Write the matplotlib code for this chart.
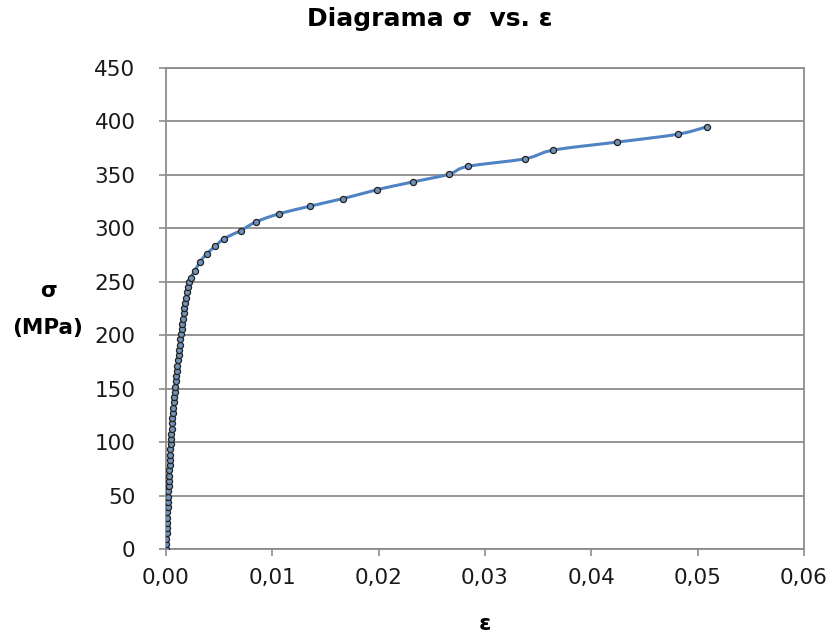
import numpy as np
import matplotlib
matplotlib.use("Agg")
import matplotlib.pyplot as plt

# Stress-strain readings (strain in mm/mm, stress in MPa)
strain = [
    0.00000, 0.00002, 0.00004, 0.00006, 0.00008, 0.00010, 0.00012, 0.00014,
    0.00016, 0.00018, 0.00020, 0.00022, 0.00024, 0.00026, 0.00028, 0.00030,
    0.00033, 0.00035, 0.00038, 0.00040, 0.00043, 0.00046, 0.00050, 0.00053,
    0.00057, 0.00060, 0.00064, 0.00068, 0.00073, 0.00077, 0.00082, 0.00087,
    0.00092, 0.00097, 0.00102, 0.00107, 0.00112, 0.00118, 0.00123, 0.00129,
    0.00135, 0.00141, 0.00147, 0.00153, 0.00160, 0.00166, 0.00173, 0.00180,
    0.00188, 0.00196, 0.00204, 0.00214, 0.00232, 0.00272, 0.00320, 0.00384,
    0.00462, 0.00547, 0.00701, 0.00846, 0.01060, 0.01352, 0.01667, 0.01981,
    0.02321, 0.02657, 0.02840, 0.03374, 0.03642, 0.04245, 0.04811, 0.05088,
]
stress = [
    0.0, 4.9, 9.8, 14.7, 19.6, 24.5, 29.4, 34.3,
    39.2, 44.1, 49.0, 53.9, 58.8, 63.7, 68.6, 73.5,
    78.4, 83.3, 88.2, 93.1, 98.0, 102.9, 107.8, 112.7,
    117.6, 122.5, 127.4, 132.3, 137.2, 142.1, 147.0, 151.9,
    156.8, 161.7, 166.6, 171.5, 176.4, 181.3, 186.2, 191.1,
    196.0, 200.9, 205.8, 210.7, 215.6, 220.5, 225.4, 230.3,
    235.2, 240.1, 245.0, 249.9, 253.8, 260.5, 268.8, 276.3,
    283.2, 290.4, 297.8, 306.0, 313.5, 320.7, 327.9, 336.1,
    343.4, 350.5, 358.0, 365.0, 373.2, 380.7, 388.0, 395.1,
]

x_ticks = [0.00, 0.01, 0.02, 0.03, 0.04, 0.05, 0.06]
x_tick_labels = ["0,00", "0,01", "0,02", "0,03", "0,04", "0,05", "0,06"]
y_ticks = [0, 50, 100, 150, 200, 250, 300, 350, 400, 450]

X_MAX, Y_MAX = 0.06, 450


def smooth_curve(x, y, xmax, ymax, n=12):
    """Catmull-Rom smoothing done in normalised axis units."""
    px = np.asarray(x) / xmax
    py = np.asarray(y) / ymax
    P = np.column_stack([px, py])
    P = np.vstack([P[0], P, P[-1]])
    out = []
    t = np.linspace(0, 1, n, endpoint=False)[:, None]
    for i in range(1, len(P) - 2):
        p0, p1, p2, p3 = P[i - 1], P[i], P[i + 1], P[i + 2]
        seg = 0.5 * ((2 * p1) + (-p0 + p2) * t
                     + (2 * p0 - 5 * p1 + 4 * p2 - p3) * t ** 2
                     + (-p0 + 3 * p1 - 3 * p2 + p3) * t ** 3)
        out.append(seg)
    out.append(P[-2][None, :])
    out = np.vstack(out)
    return out[:, 0] * xmax, out[:, 1] * ymax


fig = plt.figure(figsize=(8.37, 6.38), dpi=100)
ax = fig.add_axes([166 / 837, 1 - 549 / 638, (804 - 166) / 837, (549 - 68) / 638])

grid_col = "#8c8c8c"
ax.set_xlim(0, X_MAX)
ax.set_ylim(0, Y_MAX)
ax.set_yticks(y_ticks)
ax.set_xticks(x_ticks)
ax.set_xticklabels(x_tick_labels)
ax.yaxis.grid(True, color=grid_col, linewidth=1.3)
ax.set_axisbelow(True)
for s in ax.spines.values():
    s.set_color(grid_col)
    s.set_linewidth(1.3)

ax.tick_params(axis="both", colors=grid_col, labelcolor="#1a1a1a",
               labelsize=15.5, length=5, width=1.2, direction="out")
ax.tick_params(axis="y", pad=17)
ax.tick_params(axis="x", pad=9)

sx, sy = smooth_curve(strain, stress, X_MAX, Y_MAX)
ax.plot(sx, sy, color="#4f83c4", linewidth=2.2, zorder=3, solid_capstyle="round")
ax.plot(strain, stress, linestyle="none", marker="o", markersize=4.4,
        markerfacecolor="#7292b8", markeredgecolor="#222222",
        markeredgewidth=0.9, zorder=4)

fig.text(430 / 837, 1 - 19 / 638, "Diagrama σ  vs. ε", ha="center", va="center",
         fontsize=18, fontweight="bold", color="#000000")
fig.text(48 / 837, 1 - 291 / 638, "σ", ha="center", va="center",
         fontsize=15.5, fontweight="bold")
fig.text(48 / 837, 1 - 328 / 638, "(MPa)", ha="center", va="center",
         fontsize=15.5, fontweight="bold")
fig.text(485 / 837, 1 - 624 / 638, "ε", ha="center", va="center",
         fontsize=16, fontweight="bold")

fig.savefig("out.png", dpi=100)
